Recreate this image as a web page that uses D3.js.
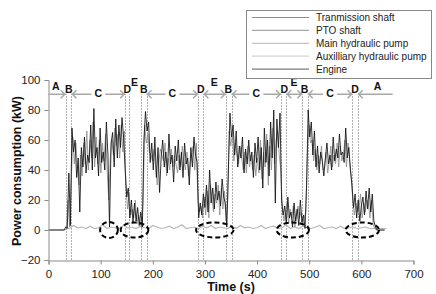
<!DOCTYPE html>
<html><head><meta charset="utf-8">
<script src="https://cdn.jsdelivr.net/npm/d3@7"></script>
<style>body{margin:0;background:#fff}svg{display:block}</style>
</head><body><svg id="c" width="436" height="294"></svg>
<script>
// ---- data ----
const xTicks = [0,100,200,300,400,500,600,700];
const yTicks = [-20,0,20,40,60,80,100];
const legendNames = ["Tranmission shaft","PTO shaft","Main hydraulic pump","Auxilliary hydraulic pump","Engine"];
const legendColors = ["#8c8c8c","#a8a8a8","#c4c4c4","#d4d4d4","#7a7a7a"];
// engine power (kW), sampled every 3 s from t = 0
const engineStart = 0, engineStep = 3;
const engine = [0,0,0,0,0,0,0,0,0,0,0,
 2,1,38,3,68,52,60,35,48,12,55,42,62,38,50,45,70,40,81,48,55,36,68,45,52,40,72,50,2,58,65,42,74,48,70,55,75,62,40,
 22,28,8,20,5,18,6,15,3,12,2,
 60,79,66,72,45,58,40,62,35,55,25,48,60,42,52,38,64,44,50,32,56,46,60,40,52,35,58,44,48,30,55,42,62,50,45,
 8,18,10,24,15,30,12,40,18,28,14,32,20,26,16,34,22,18,2,
 40,78,62,70,50,66,42,56,48,62,38,54,44,60,46,52,35,58,45,62,40,55,28,68,45,60,36,72,48,80,18,74,55,78,
 20,10,16,4,22,8,12,2,18,6,14,3,20,5,10,1,30,
 80,62,72,50,66,42,56,38,52,46,36,48,58,44,50,40,62,46,54,48,64,50,52,45,68,48,55,40,30,
 15,24,8,20,6,16,22,10,26,14,28,12,24,6,2,0,0,0,0,0,0];
// transmission shaft power (kW), every 3 s from t = 1.5
const shaftStart = 1.5, shaftStep = 3;
const shaft = [0,0,0,0,0,0,0,0,0,0,0,
 1,20,2,30,62,44,58,40,30,50,36,58,44,66,40,60,48,72,42,62,44,60,38,58,46,64,40,20,48,60,50,68,56,64,48,70,52,66,
 30,14,24,10,14,8,20,4,10,6,1,
 20,70,58,64,52,50,46,54,42,30,45,54,50,46,58,36,48,40,54,42,50,44,38,50,42,56,46,40,52,36,44,50,56,40,58,
 20,12,16,8,22,10,26,8,30,22,12,24,18,30,10,28,14,26,
 6,20,66,56,64,46,58,50,44,56,48,40,52,38,56,42,50,40,50,36,48,38,60,34,52,42,64,30,56,40,68,44,60,66,50,
 40,14,6,12,18,4,14,8,16,2,10,16,8,12,4,8,12,
 50,70,58,60,46,54,40,50,44,56,40,42,52,38,46,56,42,50,44,58,42,56,46,50,60,42,58,46,36,
 20,10,18,12,14,24,8,18,12,20,18,8,20,4,1,0,0,0,0,0,0];
// hydraulic pump baseline (kW), every 8 s from t = 32
const pumpStart = 32, pumpStep = 8;
const pump = [2,1,3,1.5,2,1,2.5,1,1.5,3.5,1,2,1.5,1,3,1.5,2,1,2.5,1.5,1,3,2,1,1.5,2.5,1,2,3.5,1,1.5,2,1,2.5,1.5,3,1,2,1.5,1,
 2.5,1,3,1.5,2,1,1.5,3,1,2,2.5,1,1.5,3.5,1,2,1,2.5,1.5,1,2,3,1,1.5,2,1,2.5,1,1.5,2,1,1.5,2,1,1,1,1,1];
// phase boundaries (s)
const phaseLines = [33,44,147,155,178,188,287,297,340,351,446,456,487,497,583,593];
// phase arrows: [from, to, arrowAtStart, arrowAtEnd]
const arrows = [[0,33,false,true],[44,147,true,true],[188,287,true,true],[297,340,true,true],
 [351,446,true,true],[456,487,true,true],[497,583,true,true],[593,660,true,false]];
// phase labels: [letter, time, kW]
const phaseLabels = [["A",14,96],["B",39,94],["C",95.5,91],["D",151,94],["E",165,98.7],
 ["B",183,94],["C",237.5,91],["D",292,94],["E",318,98.7],["B",345,94],["C",398.5,91],
 ["D",452,94],["E",471,98.7],["B",491,94],["C",540,91],["D",588,94],["A",631,96]];
// dashed ellipses: [centre time, centre kW, half-width s, half-height kW]
const ellipses = [[116,0,17,5.3],[165,0,26.5,5],[319,0,36,5],[468.5,0,31,5],[602,0,32,5]];

// ---- chart ----
const svg = d3.select("#c");
const x = d3.scaleLinear().domain([0,700]).range([48.5,413.5]);
const y = d3.scaleLinear().domain([-20,100]).range([260,80]);
const font = "Liberation Sans, Arial, sans-serif";

// phase dashed lines
svg.append("g").selectAll("line").data(phaseLines).join("line")
  .attr("x1",d=>Math.round(x(d))+0.5).attr("x2",d=>Math.round(x(d))+0.5)
  .attr("y1",y(-20)).attr("y2",y(90.5))
  .attr("stroke","#b0b0b0").attr("stroke-width",1).attr("stroke-dasharray","2,1");

// baseline series
svg.append("path").datum(pump)
  .attr("d",d3.line().x((d,i)=>x(pumpStart+i*pumpStep)).y(d=>y(d)))
  .attr("fill","none").attr("stroke","#b8b8b8").attr("stroke-width",1.2);

// transmission shaft
svg.append("path").datum(shaft)
  .attr("d",d3.line().x((d,i)=>x(shaftStart+i*shaftStep)).y(d=>y(d)))
  .attr("fill","none").attr("stroke","#8a8a8a").attr("stroke-width",0.8);

// engine
svg.append("path").datum(engine)
  .attr("d",d3.line().x((d,i)=>x(engineStart+i*engineStep)).y(d=>y(d)))
  .attr("fill","none").attr("stroke","#111").attr("stroke-width",0.85);

// axes
const yAxis = svg.append("g").attr("transform","translate(48.5,0)")
  .call(d3.axisLeft(y).tickValues(yTicks).tickSize(4).tickPadding(4));
const xAxis = svg.append("g").attr("transform","translate(0,260.5)")
  .call(d3.axisBottom(x).tickValues(xTicks).tickSize(4).tickPadding(5));
[yAxis,xAxis].forEach(a=>{
  a.selectAll("path,line").attr("stroke","#8a8a8a");
  a.selectAll("text").attr("font-family",font).attr("font-size",11.5).attr("fill","#222");
});

// arrows
const ay = y(90.5);
const ag = svg.append("g").attr("stroke","#a8a8a8").attr("stroke-width",1.5).attr("fill","none");
arrows.forEach(([a,b,s,e])=>{
  const x1=x(a), x2=x(b);
  ag.append("line").attr("x1",x1).attr("x2",x2).attr("y1",ay).attr("y2",ay);
  if(s) ag.append("path").attr("d",`M${x1+5},${ay-4}L${x1+1},${ay}L${x1+5},${ay+4}`);
  if(e) ag.append("path").attr("d",`M${x2-5},${ay-4}L${x2-1},${ay}L${x2-5},${ay+4}`);
});
// labels (C sits on a white gap)
phaseLabels.forEach(([t,tm,v])=>{
  if(t==="C") svg.append("rect").attr("x",x(tm)-7).attr("y",y(v)-5).attr("width",14).attr("height",10).attr("fill","#fff");
  svg.append("text").attr("x",x(tm)).attr("y",y(v)).attr("dy","0.36em").attr("text-anchor","middle")
    .attr("font-family",font).attr("font-weight","bold").attr("font-size",10.5).attr("fill","#111").text(t);
});

// ellipses
svg.append("g").selectAll("ellipse").data(ellipses).join("ellipse")
  .attr("cx",d=>x(d[0])).attr("cy",d=>y(d[1]))
  .attr("rx",d=>x(d[0]+d[2])-x(d[0])).attr("ry",d=>y(0)-y(d[3]))
  .attr("fill","none").attr("stroke","#000").attr("stroke-width",2).attr("stroke-dasharray","5,3");

// axis titles
svg.append("text").attr("x",231).attr("y",291).attr("text-anchor","middle")
  .attr("font-family",font).attr("font-weight","bold").attr("font-size",12.5).attr("fill","#111").text("Time (s)");
svg.append("text").attr("transform","translate(21,171) rotate(-90)").attr("text-anchor","middle")
  .attr("font-family",font).attr("font-weight","bold").attr("font-size",12.5).attr("fill","#111").text("Power consumption (kW)");

// legend
const lg = svg.append("g");
lg.append("rect").attr("x",246.5).attr("y",10.5).attr("width",185).attr("height",68)
  .attr("fill","#fff").attr("stroke","#888");
legendNames.forEach((n,i)=>{
  const yy = 17.5 + i*12.9;
  lg.append("line").attr("x1",252).attr("x2",309).attr("y1",yy).attr("y2",yy)
    .attr("stroke",legendColors[i]).attr("stroke-width",1.2);
  lg.append("text").attr("x",316).attr("y",yy).attr("dy","0.35em")
    .attr("font-family",font).attr("font-size",10).attr("fill","#222").text(n);
});
</script></body></html>
